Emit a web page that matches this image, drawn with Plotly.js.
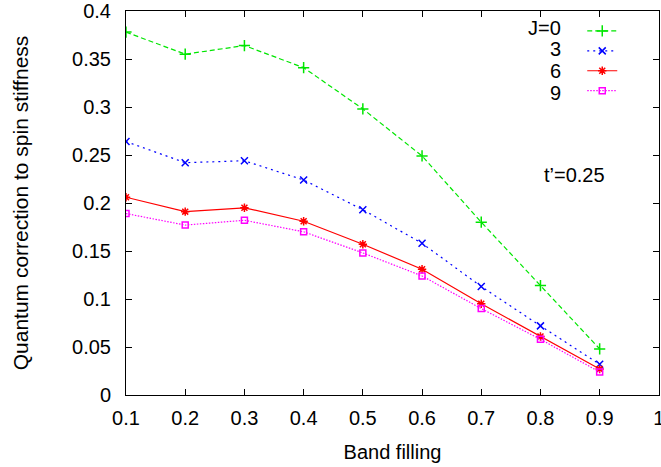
<!DOCTYPE html>
<html>
<head>
<meta charset="utf-8">
<script src="https://cdn.plot.ly/plotly-3.0.1.min.js"></script>
<style>html,body{margin:0;padding:0;background:#fff;}#chart{width:661px;height:467px;}</style>
</head>
<body>
<div id="chart"></div>
<script>
const filling = [0.1, 0.2, 0.3, 0.4, 0.5, 0.6, 0.7, 0.8, 0.9];
const j0 = [0.378, 0.355, 0.364, 0.341, 0.298, 0.249, 0.180, 0.114, 0.048];
const j3 = [0.264, 0.242, 0.244, 0.224, 0.193, 0.158, 0.113, 0.072, 0.032];
const j6 = [0.206, 0.191, 0.195, 0.181, 0.157, 0.131, 0.095, 0.061, 0.027];
const j9 = [0.189, 0.177, 0.182, 0.170, 0.148, 0.124, 0.090, 0.058, 0.024];
const seriesLabels = ["J=0", "3", "6", "9"];
const xTicks = [0.1, 0.2, 0.3, 0.4, 0.5, 0.6, 0.7, 0.8, 0.9, 1];
const yTicks = [0, 0.05, 0.1, 0.15, 0.2, 0.25, 0.3, 0.35, 0.4];

const font = "Liberation Sans, Arial, sans-serif";
const FS = 20;
const styles = [
  {color: "#00e600", dash: "5px,3px", symbol: "cross-thin-open", size: 8},
  {color: "#0000ff", dash: "2px,4px", symbol: "x-thin-open", size: 7},
  {color: "#ff0000", dash: "solid", symbol: "asterisk-open", size: 7},
  {color: "#ff00ff", dash: "1.5px,1.5px", symbol: "square-open", size: 6}
];
const ys = [j0, j3, j6, j9];
const traces = ys.map((y, i) => ({
  x: filling, y: y, type: "scatter", mode: "lines+markers",
  name: " ",
  line: {color: styles[i].color, dash: styles[i].dash, width: 1.2},
  marker: {symbol: styles[i].symbol, size: styles[i].size, color: styles[i].color,
           line: {color: styles[i].color, width: 1.5}}
}));

const legendAnn = seriesLabels.map((t, i) => ({
  xref: "paper", yref: "paper", x: 0.820, xanchor: "right",
  y: 1 - (16.7 + 21.7 * i) / 384, yanchor: "middle",
  text: t, showarrow: false, font: {family: font, size: FS, color: "#000"}
}));

const layout = {
  width: 661, height: 467,
  margin: {l: 125.5, r: 2, t: 11, b: 72},
  paper_bgcolor: "#fff", plot_bgcolor: "#fff",
  font: {family: font, size: FS, color: "#000"},
  showlegend: true,
  legend: {x: 0.856, y: 1 - 5 / 384, xanchor: "left", yanchor: "top",
           bgcolor: "rgba(0,0,0,0)", borderwidth: 0, tracegroupgap: 0,
           font: {family: font, size: 13}},
  xaxis: {range: [0.1, 1.0002], tickvals: xTicks, ticktext: xTicks.map(String),
          ticks: "inside", ticklen: 6, tickcolor: "#000", mirror: "ticks",
          showline: true, linecolor: "#000", linewidth: 1, showgrid: false, zeroline: false,
          tickfont: {family: font, size: FS}, ticklabelstandoff: 5, ticklabeloverflow: "allow",
          title: {text: "Band filling", font: {family: font, size: FS}, standoff: 16}},
  yaxis: {range: [0, 0.4], tickvals: yTicks, ticktext: yTicks.map(String),
          ticks: "inside", ticklen: 6, tickcolor: "#000", mirror: "ticks",
          showline: true, linecolor: "#000", linewidth: 1, showgrid: false, zeroline: false,
          tickfont: {family: font, size: FS}, ticklabelstandoff: 10,
          title: {text: "Quantum correction to spin stiffness", font: {family: font, size: 21}, standoff: 37}},
  annotations: legendAnn.concat([{
    xref: "paper", yref: "paper", x: 0.841, y: 1 - 164 / 384, xanchor: "center", yanchor: "middle",
    text: "t’=0.25", showarrow: false, font: {family: font, size: FS, color: "#000"}
  }])
};
Plotly.newPlot("chart", traces, layout, {displayModeBar: false, staticPlot: true});
</script>
</body>
</html>
